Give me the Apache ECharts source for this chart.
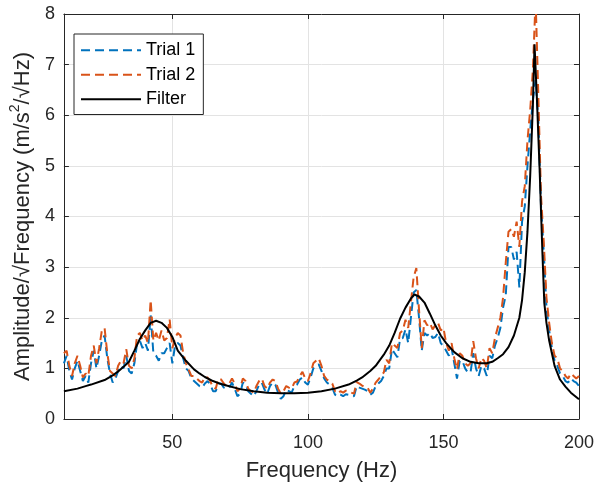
<!DOCTYPE html>
<html><head><meta charset="utf-8">
<script src="https://cdn.jsdelivr.net/npm/echarts@6/dist/echarts.min.js"></script>
<style>html,body{margin:0;padding:0;background:#fff}#c{width:597px;height:487px}</style>
</head><body><div id="c"></div>
<script>
const freq = [10,11,12,13,14,15,16,17,18,19,20,21,22,23,24,25,26,27,28,29,30,31,32,33,34,35,36,37,38,39,40,41,42,43,44,45,46,47,48,49,50,51,52,53,54,55,56,57,58,59,60,61,62,63,64,65,66,67,68,69,70,71,72,73,74,75,76,77,78,79,80,81,82,83,84,85,86,87,88,89,90,91,92,93,94,95,96,97,98,99,100,101,102,103,104,105,106,107,108,109,110,111,112,113,114,115,116,117,118,119,120,121,122,123,124,125,126,127,128,129,130,131,132,133,134,135,136,137,138,139,140,141,142,143,144,145,146,147,148,149,150,151,152,153,154,155,156,157,158,159,160,161,162,163,164,165,166,167,168,169,170,171,172,173,174,175,176,177,178,179,180,181,182,183,184,185,186,187,188,189,190,191,192,193,194,195,196,197,198,199,200];
const trial1 = [
1.10,1.25,0.95,0.78,1.00,1.15,0.95,0.75,0.85,0.72,
1.10,1.35,1.00,1.25,1.55,1.65,1.20,0.90,0.72,0.80,
0.95,1.05,1.00,1.25,0.95,0.90,1.10,1.50,1.55,1.40,
1.50,1.35,2.05,1.30,1.25,1.15,1.30,1.30,1.40,1.50,
1.10,1.45,1.50,1.45,1.20,1.00,0.95,0.80,0.75,0.70,
0.65,0.62,0.70,0.75,0.68,0.55,0.55,0.70,0.70,0.62,
0.60,0.62,0.72,0.60,0.45,0.50,0.72,0.68,0.55,0.50,
0.45,0.55,0.68,0.72,0.58,0.50,0.65,0.72,0.68,0.52,
0.40,0.45,0.58,0.55,0.52,0.65,0.68,0.78,0.82,0.72,
0.68,0.82,1.00,1.05,1.08,0.95,0.80,0.72,0.68,0.62,
0.48,0.45,0.48,0.45,0.49,0.48,0.46,0.45,0.65,0.62,
0.60,0.58,0.55,0.48,0.52,0.65,0.70,0.75,0.85,1.00,
1.00,1.38,1.30,1.22,1.58,1.60,1.77,1.50,2.00,2.50,
2.55,2.00,1.35,1.70,1.65,1.70,1.60,1.62,1.70,1.50,
1.44,1.35,1.25,1.40,1.10,0.80,1.15,1.15,1.00,0.92,
0.92,1.30,1.00,0.85,1.05,1.00,0.85,1.25,1.20,1.45,
1.60,1.80,2.20,2.45,3.40,3.40,3.15,3.30,2.60,3.90,
4.20,5.00,5.70,6.30,6.70,5.90,4.20,3.30,2.20,1.75,
1.40,1.15,1.05,0.90,0.85,0.75,0.72,0.80,0.75,0.72,
0.65];
const trial2 = [
1.30,1.35,1.05,0.85,1.10,1.25,1.05,0.82,0.90,0.85,
1.25,1.45,1.10,1.40,1.75,1.80,1.30,0.95,0.90,0.85,
1.05,1.15,1.10,1.38,1.05,1.00,1.20,1.65,1.70,1.55,
1.65,1.50,2.35,1.55,1.70,1.55,1.75,1.55,1.60,1.97,
1.40,1.60,1.70,1.65,1.30,1.10,0.98,0.85,0.85,0.80,
0.75,0.72,0.83,0.82,0.75,0.62,0.60,0.80,0.78,0.70,
0.65,0.70,0.80,0.70,0.55,0.60,0.80,0.75,0.60,0.55,
0.52,0.65,0.75,0.80,0.65,0.60,0.72,0.78,0.75,0.60,
0.50,0.55,0.65,0.62,0.60,0.72,0.74,0.85,0.93,0.80,
0.75,0.90,1.10,1.15,1.20,1.05,0.85,0.78,0.75,0.70,
0.55,0.50,0.55,0.52,0.56,0.55,0.52,0.50,0.73,0.70,
0.66,0.63,0.62,0.52,0.60,0.72,0.78,0.85,0.92,1.17,
1.10,1.50,1.45,1.40,1.70,1.75,1.96,1.80,2.30,2.80,
2.98,2.15,1.40,1.95,1.85,1.90,1.77,1.85,1.90,1.75,
1.80,1.50,1.35,1.50,1.20,0.98,1.30,1.25,1.10,1.05,
1.10,1.54,1.20,1.00,1.21,1.15,1.00,1.40,1.30,1.60,
1.80,2.00,2.40,3.10,3.70,3.75,3.60,3.90,3.40,4.30,
4.60,5.50,6.10,6.90,8.30,6.40,4.40,3.50,2.40,1.90,
1.50,1.25,1.20,1.00,0.95,0.85,0.80,0.90,0.85,0.80,
0.85];
const filterFreq = [10,15,18,20,25,28,30,32,34,36,38,40,42,44,46,48,50,52,55,58,60,62,65,68,70,75,80,85,90,95,100,105,110,115,118,120,123,125,128,130,132,134,136,138,139.3,141,143,145,147,149,151,154,157,160,163,166,168,170,172,174,176,178,179,180,181,182,183,183.6,184.5,185.5,186.5,187.2,188,189,190,191,193,195,197,200];
const filterAmp = [0.55,0.60,0.65,0.68,0.77,0.86,0.94,1.03,1.13,1.35,1.58,1.75,1.90,1.94,1.90,1.80,1.62,1.35,1.15,0.98,0.90,0.83,0.75,0.69,0.66,0.59,0.55,0.52,0.51,0.51,0.52,0.55,0.60,0.68,0.76,0.82,0.95,1.05,1.27,1.45,1.70,1.98,2.20,2.38,2.46,2.42,2.30,2.08,1.85,1.65,1.50,1.32,1.20,1.13,1.10,1.10,1.13,1.20,1.28,1.42,1.65,2.00,2.35,2.90,3.70,4.80,6.20,7.40,6.30,4.90,3.30,2.30,1.90,1.55,1.30,1.05,0.78,0.64,0.52,0.39];
const xTicks = [50,100,150,200];
const seriesNames = ['Trial 1','Trial 2','Filter'];

const pairs = (xs, ys) => xs.map((x, i) => [x, ys[i]]);
const axisColor = '#262626';
const font = '"Liberation Sans", Arial, Helvetica, sans-serif';
const chart = echarts.init(document.getElementById('c'), null, {renderer: 'canvas'});

const baseX = {
  type: 'value', min: 10, max: 200,
  axisLine: {onZero: false, lineStyle: {color: axisColor, width: 1}},
  axisTick: {inside: true, length: 5, customValues: xTicks, lineStyle: {color: axisColor}},
  splitLine: {show: false}
};
const baseY = {
  type: 'value', min: 0, max: 8, interval: 1,
  axisLine: {show: true, onZero: false, lineStyle: {color: axisColor, width: 1}},
  axisTick: {show: true, inside: true, length: 5, lineStyle: {color: axisColor}},
  splitLine: {show: false}
};

chart.setOption({
  animation: false,
  backgroundColor: '#fff',
  textStyle: {fontFamily: font},
  grid: {left: 62, right: 16, top: 14, bottom: 67},
  legend: {
    orient: 'vertical', left: 74, top: 34,
    backgroundColor: '#fff', borderColor: '#262626', borderWidth: 1,
    padding: [6, 8, 5, 6], itemWidth: 60, itemHeight: 14, itemGap: 4,
    itemStyle: {opacity: 0, borderWidth: 0},
    textStyle: {fontSize: 18, color: '#000', fontFamily: font, lineHeight: 20.5},
    data: seriesNames
  },
  xAxis: [
    Object.assign({}, baseX, {
      position: 'bottom',
      axisLabel: {customValues: xTicks, fontSize: 18, color: axisColor, fontFamily: font, margin: 15},
      splitLine: {show: true, lineStyle: {color: '#e3e3e3', width: 1}},
      name: 'Frequency (Hz)', nameLocation: 'middle', nameGap: 41,
      nameTextStyle: {fontSize: 22, color: axisColor, fontFamily: font}
    }),
    Object.assign({}, baseX, {position: 'top', axisLabel: {show: false}})
  ],
  yAxis: [
    Object.assign({}, baseY, {
      position: 'left',
      axisLabel: {fontSize: 18, color: axisColor, fontFamily: font, margin: 9},
      splitLine: {show: true, lineStyle: {color: '#e3e3e3', width: 1}},
      name: '{a|Amplitude/√Frequency (m/s}{s|2}{a|/√Hz)}',
      nameLocation: 'middle', nameGap: 28, nameRotate: 90,
      nameTextStyle: {
        color: axisColor, fontFamily: font,
        rich: {
          a: {fontSize: 22, lineHeight: 26, verticalAlign: 'bottom', color: axisColor, fontFamily: font},
          s: {fontSize: 14, lineHeight: 18, verticalAlign: 'top', color: axisColor, fontFamily: font}
        }
      }
    }),
    Object.assign({}, baseY, {position: 'right', axisLabel: {show: false}})
  ],
  series: [
    {name: seriesNames[0], type: 'line', data: pairs(freq, trial1), symbol: 'none', clip: true,
     lineStyle: {color: '#0072BD', width: 2, type: [9, 5]}, itemStyle: {color: '#0072BD'}, z: 2},
    {name: seriesNames[1], type: 'line', data: pairs(freq, trial2), symbol: 'none', clip: true,
     lineStyle: {color: '#D95319', width: 2, type: [9, 5]}, itemStyle: {color: '#D95319'}, z: 3},
    {name: seriesNames[2], type: 'line', data: pairs(filterFreq, filterAmp), symbol: 'none', clip: true,
     lineStyle: {color: '#000', width: 2}, itemStyle: {color: '#000'}, z: 4}
  ]
});
</script></body></html>
